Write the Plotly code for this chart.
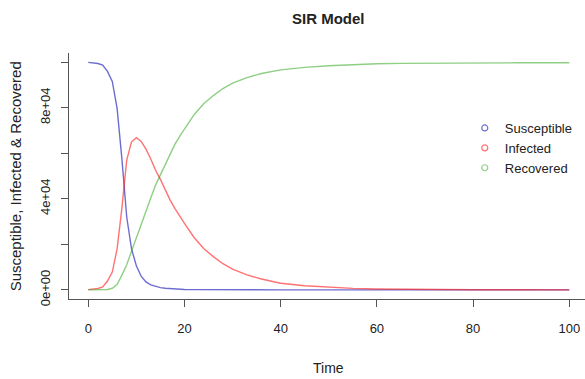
import plotly.graph_objects as go

# ---- data ----
time = [0, 1, 2, 3, 4, 5, 6, 7, 8, 9, 10, 11, 12, 13, 14, 15, 16, 17, 18, 19, 20,
        22, 24, 26, 28, 30, 33, 36, 40, 45, 50, 55, 60, 65, 70, 80, 90, 100]
susceptible = [99900, 99800, 99400, 98700, 95900, 91500, 79700, 57500, 32000, 18000, 10600,
               6000, 3500, 2200, 1500, 1000, 700, 500, 350, 250, 180,
               100, 60, 40, 30, 20, 15, 10, 8, 5, 4, 3, 2, 2, 1, 1, 1, 1]
infected = [100, 200, 600, 1300, 3900, 7800, 18000, 36000, 57000, 65000, 66800,
            65200, 61800, 57500, 52500, 48500, 44000, 39500, 35800, 32400, 29200,
            23000, 18200, 14600, 11500, 9100, 6600, 4800, 2900, 1800, 1100, 650, 400,
            250, 150, 60, 30, 10]
recovered = [0, 0, 0, 0, 200, 700, 2300, 6500, 11000, 17000, 22600,
             28800, 34700, 40300, 46000, 50500, 55300, 60000, 63850, 67350, 70620,
             76900, 81700, 85300, 88400, 90800, 93200, 95000, 96600, 97700, 98400,
             98900, 99300, 99450, 99550, 99650, 99700, 99750]

series_names = ["Susceptible", "Infected", "Recovered"]
x_ticks = [0, 20, 40, 60, 80, 100]
y_ticks = [0, 20000, 40000, 60000, 80000, 100000]
y_ticktext = ["0e+00", "", "4e+04", "", "8e+04", ""]

colors = ["rgba(20,20,180,0.62)", "rgba(255,20,20,0.6)", "rgba(30,160,10,0.5)"]
FONT = "Liberation Sans, Arial, sans-serif"

fig = go.Figure()
for name, vals, col in zip(series_names, [susceptible, infected, recovered], colors):
    fig.add_trace(go.Scatter(x=time, y=vals, mode="lines", name=name,
                             line=dict(color=col, width=1.4), showlegend=False,
                             hoverinfo="skip"))
for name, col in zip(series_names, colors):
    fig.add_trace(go.Scatter(x=[None], y=[None], mode="markers", name=name,
                             marker=dict(symbol="circle-open", size=6, color=col,
                                         line=dict(width=1.2, color=col))))

fig.update_layout(
    width=585, height=379,
    margin=dict(l=69, r=0, t=53, b=80),
    paper_bgcolor="white", plot_bgcolor="white",
    font=dict(family=FONT, size=13, color="#222"),
    xaxis=dict(range=[-4, 103.27], tickvals=x_ticks, ticks="outside", ticklen=7,
               tickcolor="#555", tickwidth=1, showline=True, linecolor="#555",
               linewidth=1, showgrid=False, zeroline=False, ticklabelstandoff=10,
               tickfont=dict(size=13, color="#222")),
    yaxis=dict(range=[-4000, 104000], tickvals=y_ticks, ticktext=y_ticktext,
               ticks="outside", ticklen=7, tickcolor="#555", tickwidth=1,
               showline=True, linecolor="#555", linewidth=1, showgrid=False,
               zeroline=False, tickangle=-90, ticklabelstandoff=6,
               tickfont=dict(size=13, color="#222")),
    legend=dict(x=0.767, y=0.756, xanchor="left", yanchor="top",
                bgcolor="rgba(0,0,0,0)", font=dict(size=13, color="#222"),
                itemwidth=30, tracegroupgap=0),
    annotations=[
        dict(text="<b>SIR Model</b>", x=0.503, y=1.142, xref="paper", yref="paper",
             showarrow=False, xanchor="center", yanchor="middle",
             font=dict(size=15, color="#222")),
        dict(text="Time", x=0.503, y=-0.28, xref="paper", yref="paper",
             showarrow=False, xanchor="center", yanchor="middle",
             font=dict(size=14, color="#222")),
        dict(text="Susceptible, Infected & Recovered", x=-0.104, y=0.5,
             xref="paper", yref="paper", textangle=-90, showarrow=False,
             xanchor="center", yanchor="middle", font=dict(size=15, color="#222")),
    ],
)

fig.write_html("out.html")
